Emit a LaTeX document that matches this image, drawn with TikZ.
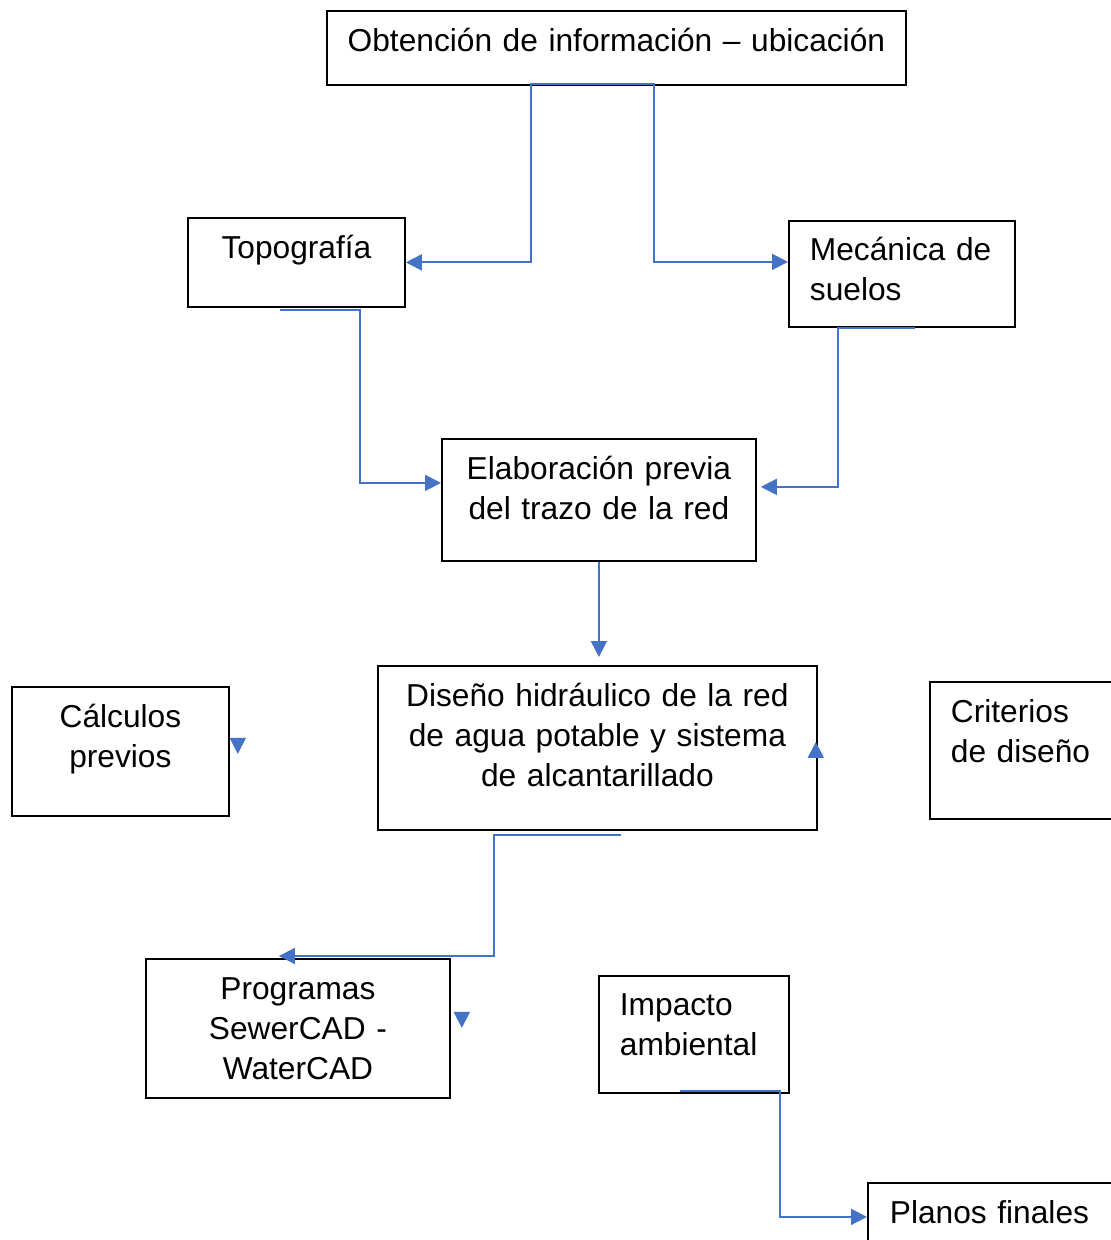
\documentclass[tikz,border=0pt]{standalone}
\usepackage{fontspec}
\setmainfont{Liberation Sans}
\usetikzlibrary{arrows.meta}
\definecolor{linkblue}{HTML}{4472C4}

\begin{document}
\begin{tikzpicture}[x=0.5pt, y=-0.5pt,
    box/.style={draw, line width=0.9pt, inner sep=0pt, anchor=north west,
      font=\fontsize{15.85}{20}\selectfont},
    flow/.style={draw=linkblue, line width=0.9pt,
      -{Triangle[length=8pt, width=8pt]}}]
  \useasboundingbox (0,0) rectangle (1111,1240);
  \clip (0,0) rectangle (1111,1240);
  \node[box, text width=289.5pt, text height=20.5pt, text depth=16.5pt, align=center]
    (obt) at (326,10) {Obtención de información – ubicación};
  \node[box, text width=108.5pt, text height=20.5pt, text depth=24pt, align=center]
    (topo) at (187,217) {Topografía};
  \node[box, inner xsep=10.5pt, text width=92pt, text height=20pt, text depth=33pt, align=left]
    (meca) at (788,220) {Mecánica de\\suelos};
  \node[box, text width=157pt, text height=20.5pt, text depth=40.5pt, align=center]
    (elab) at (441,438) {Elaboración previa\\del trazo de la red};
  \node[box, text width=219.5pt, text height=20.5pt, text depth=61.5pt, align=center]
    (dis) at (377,665) {Diseño hidráulico de la red\\de agua potable y sistema\\de alcantarillado};
  \node[box, text width=108.5pt, text height=20.5pt, text depth=44pt, align=center]
    (calc) at (11,686) {Cálculos\\previos};
  \node[box, inner xsep=10.5pt, text width=79pt, text height=20.5pt, text depth=48pt, align=left]
    (crit) at (929,681) {Criterios\\de diseño};
  \node[box, text width=152pt, text height=20.5pt, text depth=49pt, align=center]
    (prog) at (145,958) {Programas\\SewerCAD -\\WaterCAD};
  \node[box, inner xsep=10.5pt, text width=74pt, text height=20pt, text depth=38.5pt, align=left]
    (imp) at (598,975) {Impacto\\ambiental};
  \node[box, inner xsep=11pt, text width=109.5pt, text height=20.5pt, text depth=13.5pt, align=left]
    (plan) at (867,1182) {Planos finales};

  \coordinate (disin) at ([shift={(0,-8)}]dis.north);
  \begin{scope}[flow]
    \draw ([shift={(-47,-2)}]obt.south) -| ([shift={(125,0)}]topo.east) -- (topo.east);
    \draw ([shift={(-47,-2)}]obt.south) -| ([shift={(-134,-12)}]meca.west) -- ([shift={(0,-12)}]meca.west);
    \draw ([shift={(-16,2)}]topo.south) -| ([shift={(-81,-17)}]elab.west) -- ([shift={(0,-17)}]elab.west);
    \draw ([shift={(13,0)}]meca.south) -| ([shift={(81,-13)}]elab.east) -- ([shift={(4,-13)}]elab.east);
    \draw (elab.south) -- (elab.south |- disin);
    \draw ([shift={(24,4)}]dis.south) -| ([shift={(196,-2)}]prog.north) -- ([shift={(-19,-2)}]prog.north);
    \draw ([shift={(-14,-3)}]imp.south) -| ([shift={(-87,0)}]plan.west) -- (plan.west);
    \draw ([shift={(8,-13.5)}]calc.east) -- ([shift={(8,2.5)}]calc.east);
    \draw ([shift={(-2,10)}]dis.east) -- ([shift={(-2,-6)}]dis.east);
    \draw ([shift={(11,-16.5)}]prog.east) -- ([shift={(11,-0.5)}]prog.east);
  \end{scope}
\end{tikzpicture}
\end{document}
